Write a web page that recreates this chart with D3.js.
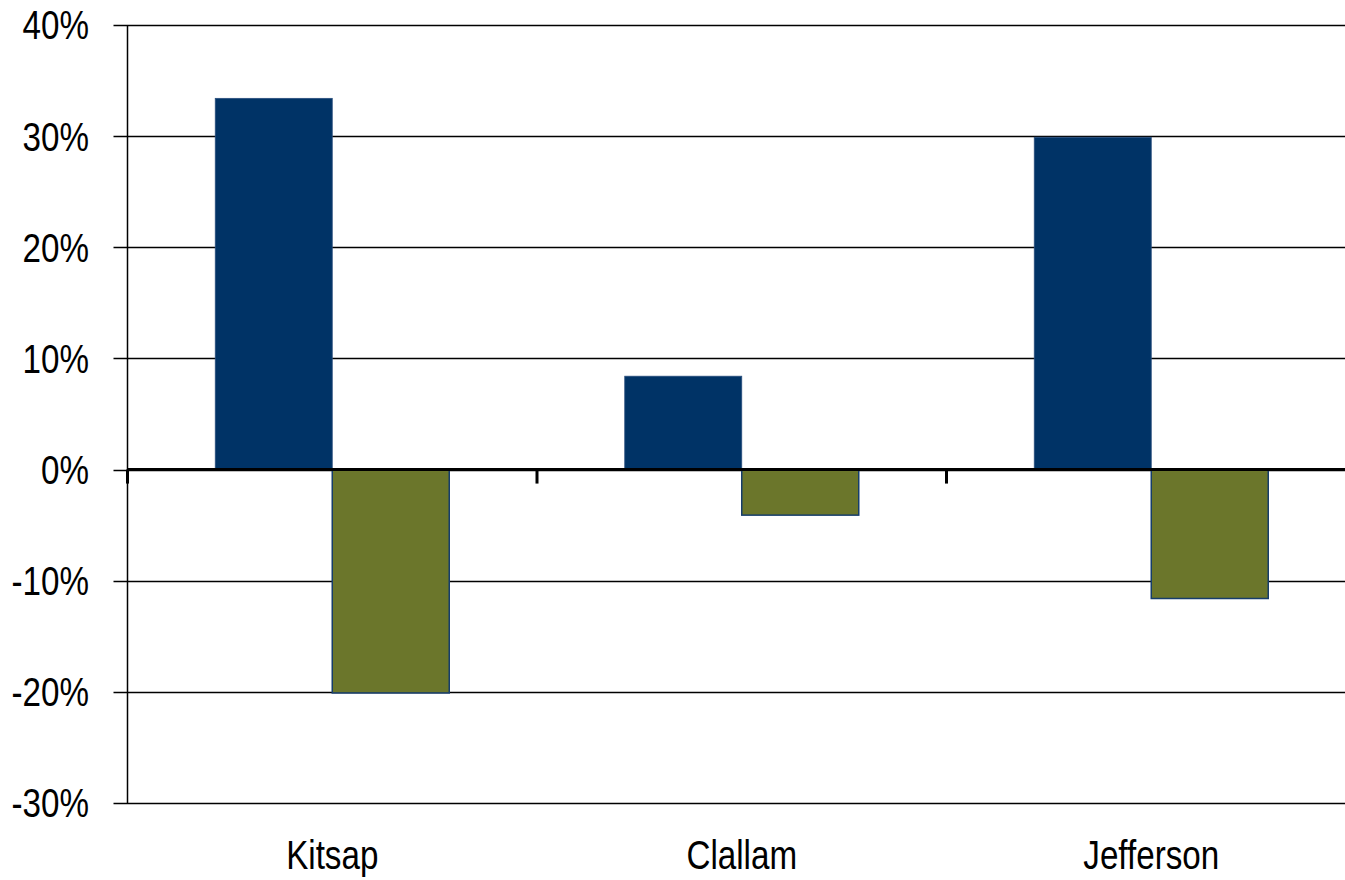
<!DOCTYPE html>
<html>
<head>
<meta charset="utf-8">
<script src="https://cdn.jsdelivr.net/npm/d3@7"></script>
<style>
  body { margin: 0; background: #fff; }
  text { font-family: "Liberation Sans", Arial, sans-serif; fill: #000; }
</style>
</head>
<body>
<div id="chart-area"></div>
<script>
// data
var counties = ["Kitsap", "Clallam", "Jefferson"];
var seriesNames = ["first", "second"];
var firstValues = [33.4, 8.4, 29.9];
var secondValues = [-20.1, -4.1, -11.6];
var yTicks = [-30, -20, -10, 0, 10, 20, 30, 40];

var colors = {first: "#003366", second: "#6b762b"};

var width = 1345, height = 880;
var margin = {top: 25, left: 127.5, bottom: 77};
var narrow = 0.83; // squeeze text to look like a narrow face

var svg = d3.select("#chart-area").append("svg")
    .attr("width", width)
    .attr("height", height);

// scales
var x = d3.scaleBand()
    .domain(counties)
    .range([margin.left, margin.left + 409.5 * 3])
    .padding(0);

var xInner = d3.scaleBand()
    .domain(seriesNames)
    .range([0, x.bandwidth()])
    .paddingInner(0)
    .paddingOuter(0.75);

var y = d3.scaleLinear()
    .domain([-30, 40])
    .range([height - margin.bottom, margin.top]);

// gridlines
svg.append("g")
    .selectAll("line")
    .data(yTicks)
    .enter().append("line")
    .attr("x1", margin.left - 14)
    .attr("x2", width)
    .attr("y1", function (d) { return Math.round(y(d)) + 0.5; })
    .attr("y2", function (d) { return Math.round(y(d)) + 0.5; })
    .attr("stroke", "#000")
    .attr("stroke-width", 1.3);

// y labels
svg.append("g")
    .selectAll("text")
    .data(yTicks)
    .enter().append("text")
    .attr("transform", function (d) { return "translate(89," + y(d) + ") scale(" + narrow + ",1)"; })
    .attr("dy", "0.36em")
    .attr("text-anchor", "end")
    .style("font-size", "40px")
    .text(function (d) { return d + "%"; });

// bars
var rows = counties.map(function (c, i) {
    return {county: c, values: [
        {key: "first", value: firstValues[i]},
        {key: "second", value: secondValues[i]}
    ]};
});

var groups = svg.append("g")
    .selectAll("g")
    .data(rows)
    .enter().append("g")
    .attr("transform", function (d) { return "translate(" + x(d.county) + ",0)"; });

groups.selectAll("rect")
    .data(function (d) { return d.values; })
    .enter().append("rect")
    .attr("x", function (d) { return xInner(d.key); })
    .attr("width", xInner.bandwidth())
    .attr("y", function (d) { return y(Math.max(0, d.value)); })
    .attr("height", function (d) { return Math.abs(y(d.value) - y(0)); })
    .attr("fill", function (d) { return colors[d.key]; })
    .attr("stroke", function (d) { return d.key === "second" ? "#163d6b" : "#2a4f7e"; })
    .attr("stroke-width", function (d) { return d.key === "second" ? 1.5 : 0.8; });

// y axis line
svg.append("line")
    .attr("x1", margin.left).attr("x2", margin.left)
    .attr("y1", y(40)).attr("y2", y(-30))
    .attr("stroke", "#000")
    .attr("stroke-width", 1.5);

// zero line + category ticks
svg.append("line")
    .attr("x1", margin.left)
    .attr("x2", width)
    .attr("y1", y(0)).attr("y2", y(0))
    .attr("stroke", "#000")
    .attr("stroke-width", 3);

svg.append("g")
    .selectAll("line")
    .data(counties.map(function (c) { return x(c); }))
    .enter().append("line")
    .attr("x1", function (d) { return d; })
    .attr("x2", function (d) { return d; })
    .attr("y1", y(0))
    .attr("y2", y(0) + 14)
    .attr("stroke", "#000")
    .attr("stroke-width", 3);

// category labels
svg.append("g")
    .selectAll("text")
    .data(counties)
    .enter().append("text")
    .attr("transform", function (d) { return "translate(" + (x(d) + x.bandwidth() / 2) + ",869) scale(" + narrow + ",1)"; })
    .attr("text-anchor", "middle")
    .style("font-size", "40px")
    .text(function (d) { return d; });
</script>
</body>
</html>
